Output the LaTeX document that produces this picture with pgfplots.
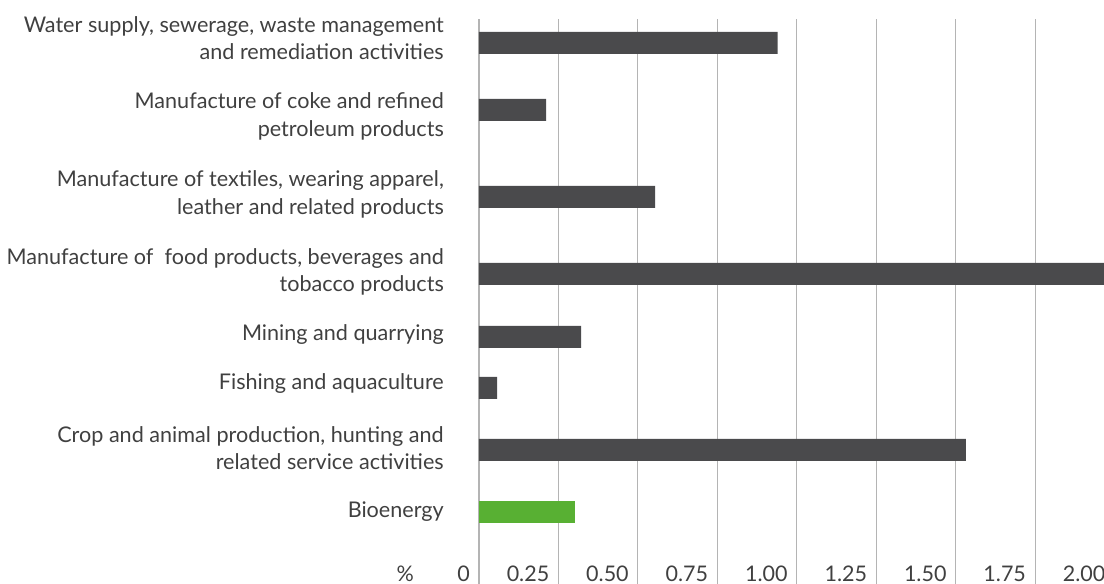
\documentclass[border=0pt]{standalone}
\usepackage{pgfplots}
\pgfplotsset{compat=1.18}
\usepackage{fontspec}
\setmainfont{Lato}
\definecolor{bardark}{HTML}{4A4A4C}
\definecolor{bargreen}{HTML}{58B033}
\definecolor{txt}{HTML}{404040}
\definecolor{gridc}{HTML}{B4B4B4}
\begin{document}
\begin{tikzpicture}
\begin{axis}[
  scale only axis,
  width=635.6pt, height=565pt,
  xmin=0, xmax=2, ymin=-584, ymax=-19,
  axis line style={draw=none},
  xmajorgrids, major grid style={gridc, line width=1.2pt},
  major tick length=0pt,
  xtick={0,0.25,0.5,0.75,1,1.25,1.5,1.75,2},
  xticklabels={0,0.25,0.50,0.75,1.00,1.25,1.50,1.75,2.00},
  xticklabel style={anchor=base east, inner sep=0pt, xshift=-9pt, yshift=2.5pt, font=\fontsize{21.5}{24}\selectfont, text=txt},
  ytick={-38,-116.5,-194.5,-272,-335,-384,-448,-512},
  yticklabels={{Water supply, sewerage, waste management\\and remediation activities},
               {Manufacture of coke and refined\\petroleum products},
               {Manufacture of textiles, wearing apparel,\\leather and related products},
               {Manufacture of\ \ food products, beverages and\\tobacco products},
               {Mining and quarrying},
               {Fishing and aquaculture},
               {Crop and animal production, hunting and\\related service activities},
               {Bioenergy}},
  yticklabel style={align=right, anchor=east, inner sep=0pt, xshift=-35pt, font=\fontsize{21.6}{27.5}\selectfont, text=txt},
  xlabel={\%},
  xlabel style={at={(axis description cs:0,0)}, anchor=base east, inner sep=0pt, xshift=-65pt, yshift=2.5pt, font=\fontsize{21.5}{24}\selectfont, text=txt},
  xbar, bar width=22,
]
\addplot[draw=none, fill=bardark, bar shift=0pt] coordinates {
  (0.94,-43) (0.211,-110) (0.554,-197) (2.10,-274) (0.321,-337) (0.057,-388) (1.532,-450)
};
\addplot[draw=none, fill=bargreen, bar shift=0pt] coordinates {(0.302,-512)};
\end{axis}
\pgfresetboundingbox
\useasboundingbox (-479pt,0pt) rectangle (625pt,584pt);
\end{tikzpicture}
\end{document}
